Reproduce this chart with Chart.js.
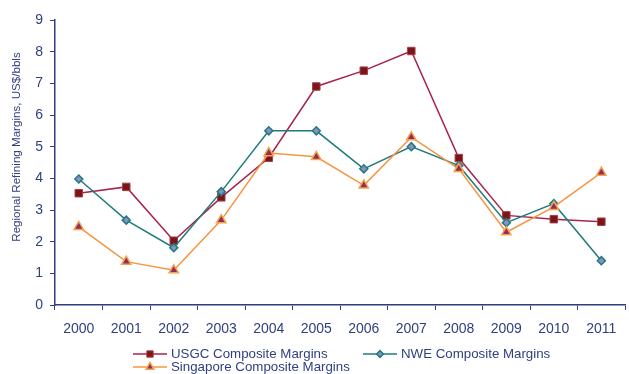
<!DOCTYPE html>
<html>
<head>
<meta charset="utf-8">
<script src="https://cdn.jsdelivr.net/npm/chart.js@4/dist/chart.umd.min.js"></script>
<style>
  html, body { margin: 0; padding: 0; overflow: hidden; background: #ffffff; }
  #wrap { position: relative; width: 632px; height: 374px; }
</style>
</head>
<body>
<div id="wrap"><canvas id="chart"></canvas></div>
<script>
// Regional refining margins, US$ per barrel
const years = ['2000', '2001', '2002', '2003', '2004', '2005', '2006', '2007', '2008', '2009', '2010', '2011'];
const usgcMargins = [3.53, 3.73, 2.03, 3.40, 4.65, 6.90, 7.40, 8.02, 4.64, 2.83, 2.71, 2.63];
const nweMargins = [3.98, 2.68, 1.81, 3.58, 5.50, 5.50, 4.30, 5.00, 4.40, 2.60, 3.20, 1.40];
const singaporeMargins = [2.47, 1.37, 1.10, 2.68, 4.80, 4.68, 3.78, 5.30, 4.30, 2.30, 3.10, 4.18];
const yTicks = [0, 1, 2, 3, 4, 5, 6, 7, 8, 9];

const NAVY = '#2f3f7f';
const FONT = '"Liberation Sans", Arial, sans-serif';

const seriesNames = ['USGC Composite Margins', 'NWE Composite Margins', 'Singapore Composite Margins'];

// Legend drawn under the plot: two items in the first row, one in the second
const bottomLegend = {
  id: 'bottomLegend',
  afterDraw(chart) {
    const ctx = chart.ctx;
    const spots = [
      { ds: 0, x: 133, y: 354 },
      { ds: 1, x: 363, y: 354 },
      { ds: 2, x: 133, y: 367 }
    ];
    ctx.save();
    ctx.font = '13.3px ' + FONT;
    ctx.textBaseline = 'middle';
    ctx.textAlign = 'left';
    spots.forEach(s => {
      const d = chart.data.datasets[s.ds];
      ctx.strokeStyle = d.borderColor;
      ctx.lineWidth = 1.5;
      ctx.beginPath();
      ctx.moveTo(s.x, s.y);
      ctx.lineTo(s.x + 34, s.y);
      ctx.stroke();
      ctx.fillStyle = d.pointBackgroundColor;
      ctx.strokeStyle = d.pointBorderColor;
      ctx.lineWidth = d.pointBorderWidth;
      Chart.helpers.drawPoint(ctx, {
        pointStyle: d.pointStyle,
        radius: d.pointRadius * 0.85,
        rotation: 0,
        borderWidth: d.pointBorderWidth
      }, s.x + 17, s.y);
      ctx.fillStyle = NAVY;
      ctx.fillText(d.label, s.x + 38, s.y);
    });
    ctx.restore();
  }
};

// Rotated y-axis title
const yTitle = {
  id: 'yTitle',
  afterDraw(chart) {
    const ctx = chart.ctx;
    ctx.save();
    ctx.translate(17, 147);
    ctx.rotate(-Math.PI / 2);
    ctx.font = '11.6px ' + FONT;
    ctx.fillStyle = NAVY;
    ctx.textAlign = 'center';
    ctx.textBaseline = 'middle';
    ctx.fillText('Regional Refining Margins, US$/bbls', 0, 0);
    ctx.restore();
  }
};

new Chart(document.getElementById('chart'), {
  type: 'line',
  data: {
    labels: years,
    datasets: [
      {
        label: seriesNames[0],
        data: usgcMargins,
        borderColor: '#a8234a',
        borderWidth: 1.5,
        pointStyle: 'rect',
        pointRadius: 5.3,
        pointBackgroundColor: '#7d1418',
        pointBorderColor: '#a0404c',
        pointBorderWidth: 1,
        tension: 0,
        order: 2
      },
      {
        label: seriesNames[1],
        data: nweMargins,
        borderColor: '#1f7b7e',
        borderWidth: 1.5,
        pointStyle: 'rectRot',
        pointRadius: 4,
        pointBackgroundColor: '#8a90c2',
        pointBorderColor: '#1f7b7e',
        pointBorderWidth: 1.5,
        tension: 0,
        order: 1
      },
      {
        label: seriesNames[2],
        data: singaporeMargins,
        borderColor: '#f7943e',
        borderWidth: 1.5,
        pointStyle: 'triangle',
        pointRadius: 5.4,
        pointBackgroundColor: '#8c2f5c',
        pointBorderColor: '#f7a04e',
        pointBorderWidth: 1.5,
        tension: 0,
        order: 0
      }
    ]
  },
  options: {
    responsive: true,
    maintainAspectRatio: false,
    animation: false,
    devicePixelRatio: 1,
    layout: { padding: { top: 20, left: 0, right: 0, bottom: 0 } },
    plugins: {
      legend: { display: false },
      tooltip: { enabled: false },
      title: { display: false }
    },
    scales: {
      x: {
        type: 'category',
        offset: true,
        afterFit(scale) { scale.height = 69; },
        grid: {
          offset: true,
          drawOnChartArea: false,
          drawTicks: true,
          tickLength: 5,
          color: NAVY,
          lineWidth: 1
        },
        border: { display: true, color: NAVY, width: 1.5 },
        ticks: {
          color: NAVY,
          font: { family: FONT, size: 14 },
          padding: 11,
          maxRotation: 0,
          autoSkip: false
        }
      },
      y: {
        min: 0,
        max: 9,
        afterFit(scale) { scale.width = 55; },
        afterBuildTicks(scale) { scale.ticks = yTicks.map(v => ({ value: v })); },
        grid: {
          drawOnChartArea: false,
          drawTicks: true,
          tickLength: 5,
          color: NAVY,
          lineWidth: 1
        },
        border: { display: true, color: NAVY, width: 1.5 },
        ticks: {
          color: NAVY,
          font: { family: FONT, size: 14 },
          padding: 7
        }
      }
    }
  },
  plugins: [bottomLegend, yTitle]
});
</script>
</body>
</html>
